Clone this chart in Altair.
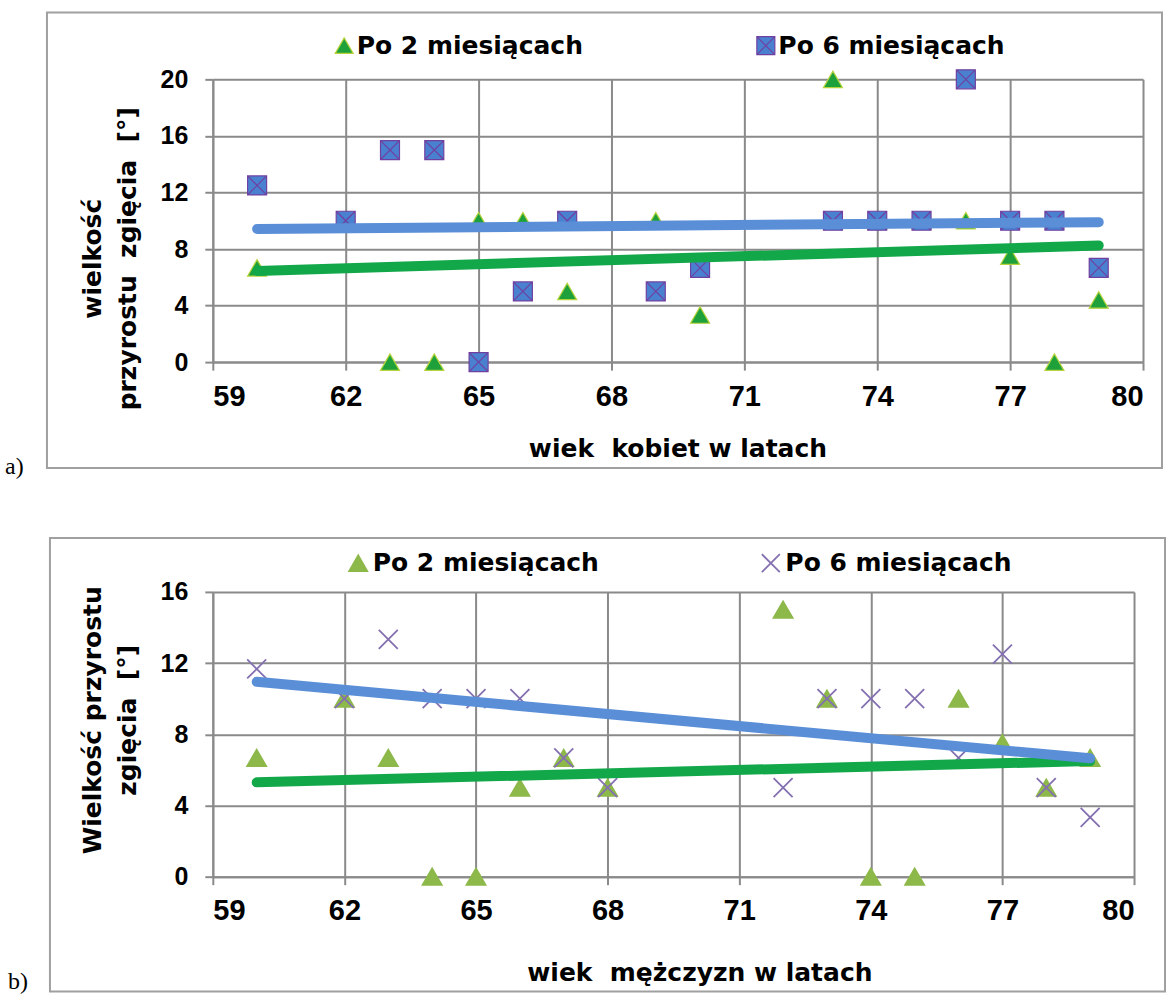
import altair as alt
import pandas as pd

S2 = "Po 2 miesiącach"
S6 = "Po 6 miesiącach"

x_ticks = [59, 62, 65, 68, 71, 74, 77, 80]

# a) women
a_age_2 = [60, 63, 64, 65, 66, 67, 69, 70, 73, 74, 75, 76, 77, 78, 79]
a_val_2 = [6.67, 0, 0, 10, 10, 5, 10, 3.33, 20, 10, 10, 10, 7.5, 0, 4.4]
a_age_6 = [60, 62, 63, 64, 65, 66, 67, 69, 70, 73, 74, 75, 76, 77, 78, 79]
a_val_6 = [12.5, 10, 15, 15, 0, 5, 10, 5, 6.67, 10, 10, 10, 20, 10, 10, 6.67]
a_trend_x = [60, 79]
a_trend_2 = [6.45, 8.25]
a_trend_6 = [9.42, 9.9]
a_y_ticks = [0, 4, 8, 12, 16, 20]

# b) men
b_age_2 = [60, 62, 63, 64, 65, 66, 67, 68, 72, 73, 74, 75, 76, 77, 78, 79]
b_val_2 = [6.67, 10, 6.67, 0, 0, 5, 6.67, 5, 15, 10, 0, 0, 10, 7.5, 5, 6.67]
b_age_6 = [60, 62, 63, 64, 65, 66, 67, 68, 72, 73, 74, 75, 76, 77, 78, 79]
b_val_6 = [11.67, 10, 13.33, 10, 10, 10, 6.67, 5, 5, 10, 10, 10, 6.67, 12.5, 5, 3.33]
b_trend_x = [60, 79]
b_trend_2 = [5.3, 6.5]
b_trend_6 = [10.95, 6.65]
b_y_ticks = [0, 4, 8, 12, 16]

GRID = "#8a8a8a"
BOX = "#a0a0a0"
LINE_GREEN = "#12a84a"
LINE_BLUE = "#5a8fd8"
SQUARE_X = "M-1,-1L1,-1L1,1L-1,1Z M-1,-1L1,1 M1,-1L-1,1"
CROSS = "M-1,-1L1,1M1,-1L-1,1"


def panel(key, ages2, vals2, ages6, vals6, tx, tr2, tr6, yticks, w, h,
          fills, strokes, shapes, swidth, xtitle, ytitle, xtitle_x, xtitle_y,
          ytitle_y, leg_x, leg_y, colpad, lab_off, letter, letter_x, letter_y,
          box):
    sf = "series_" + key
    af = "age_" + key
    vf = "val_" + key
    pts = pd.DataFrame({
        sf: [S2] * len(ages2) + [S6] * len(ages6),
        af: ages2 + ages6,
        vf: vals2 + vals6,
    })
    trend = pd.DataFrame({
        sf: [S2] * len(tx) + [S6] * len(tx),
        af: tx + tx,
        vf: tr2 + tr6,
    })
    ymax = yticks[-1]
    xs = alt.Scale(domain=[59, 80], nice=False, zero=False)
    ys = alt.Scale(domain=[0, ymax], nice=False, zero=False)
    xaxis = alt.Axis(values=x_ticks, format="d", title=xtitle, grid=True,
                     gridColor=GRID, gridWidth=2, domainColor=GRID, domainWidth=2,
                     tickColor=GRID, tickWidth=2, tickSize=8,
                     labelFont="Liberation Sans", labelFontSize=29,
                     labelFontWeight="bold", labelColor="black", labelPadding=12,
                     titleFont="DejaVu Sans", titleFontSize=25,
                     titleFontWeight="bold", titleColor="black",
                     titleX=xtitle_x, titleY=xtitle_y, titleBaseline="middle",
                     titleAlign="center")
    yaxis = alt.Axis(values=yticks, format="d", title=ytitle, grid=True,
                     gridColor=GRID, gridWidth=2, domainColor=GRID, domainWidth=2,
                     tickColor=GRID, tickWidth=2, tickSize=8,
                     labelFont="Liberation Sans", labelFontSize=25,
                     labelFontWeight="bold", labelColor="black", labelPadding=17,
                     titleFont="DejaVu Sans", titleFontSize=25,
                     titleFontWeight="bold", titleColor="black",
                     titleLineHeight=35, titleX=-120, titleY=ytitle_y,
                     titleBaseline="middle", titleAlign="center")
    leg = alt.Legend(title=None, orient="none", legendX=leg_x, legendY=leg_y,
                     direction="horizontal", labelFont="DejaVu Sans",
                     labelFontSize=25, labelFontWeight="bold", labelColor="black",
                     symbolSize=324, symbolStrokeWidth=swidth, labelOffset=lab_off,
                     columnPadding=colpad, padding=0, labelLimit=400)
    dom = [S2, S6]
    frame = alt.Chart(alt.Data(values=[{}])).mark_rect(
        fill="white", fillOpacity=0, stroke=BOX, strokeWidth=2
    ).encode(x=alt.value(box[0]), x2=alt.value(box[1]),
             y=alt.value(box[2]), y2=alt.value(box[3]))
    points = alt.Chart(pts).mark_point(filled=True, size=361, strokeWidth=swidth,
                                        opacity=1).encode(
        x=alt.X(af + ":Q", scale=xs, axis=xaxis),
        y=alt.Y(vf + ":Q", scale=ys, axis=yaxis),
        fill=alt.Fill(sf + ":N", scale=alt.Scale(domain=dom, range=fills), legend=leg),
        stroke=alt.Stroke(sf + ":N", scale=alt.Scale(domain=dom, range=strokes), legend=leg),
        shape=alt.Shape(sf + ":N", scale=alt.Scale(domain=dom, range=shapes), legend=leg),
    )
    lines = alt.Chart(trend).mark_line(strokeWidth=10, strokeCap="round").encode(
        x=alt.X(af + ":Q", scale=xs),
        y=alt.Y(vf + ":Q", scale=ys),
        color=alt.Color(sf + ":N",
                        scale=alt.Scale(domain=dom, range=[LINE_GREEN, LINE_BLUE]),
                        legend=None),
    )
    lab = alt.Chart(alt.Data(values=[{"t": letter}])).mark_text(
        font="Liberation Serif", fontSize=24, align="left", baseline="alphabetic",
        color="black"
    ).encode(text="t:N", x=alt.value(letter_x), y=alt.value(letter_y))
    return alt.layer(frame, points, lines, lab).properties(width=w, height=h)


top = panel("a", a_age_2, a_val_2, a_age_6, a_val_6, a_trend_x, a_trend_2, a_trend_6,
            a_y_ticks, 931, 283,
            ["#4a80d0", "#4a80d0"][:0] + ["#1ea13b", "#4a80d0"], ["#b6d33c", "#7040a0"],
            ["triangle-up", SQUARE_X], 1.2,
            "wiek\u00a0 kobiet w latach",
            ["wielkość", "przyrostu\u00a0 zgięcia\u00a0 [°]"],
            465, 86, 179, 119, -46.5, 170, 0, "a)", -208, 395,
            (-166, 950, -67, 389))

bottom = panel("b", b_age_2, b_val_2, b_age_6, b_val_6, b_trend_x, b_trend_2, b_trend_6,
               b_y_ticks, 922, 285,
               ["#8db84a", "#8470b0"], ["#8db84a", "#8470b0"],
               ["triangle-up", CROSS], 1.8,
               "wiek\u00a0 mężczyzn w latach",
               ["Wielkość przyrostu", "zgięcia\u00a0 [°]"],
               487, 96, 128, 133, -41.5, 158, 2, "b)", -205, 397,
               (-163, 953, -54, 400))

chart = alt.vconcat(top, bottom, spacing=58).resolve_scale(
    fill="independent", stroke="independent", shape="independent",
    color="independent"
).resolve_legend(
    fill="independent", stroke="independent", shape="independent"
).properties(
    padding={"left": 5, "top": 11, "right": 0, "bottom": 0},
    background="white",
).configure_view(strokeWidth=0)

chart.save("out.html", embed_options={"renderer": "svg", "actions": False})
